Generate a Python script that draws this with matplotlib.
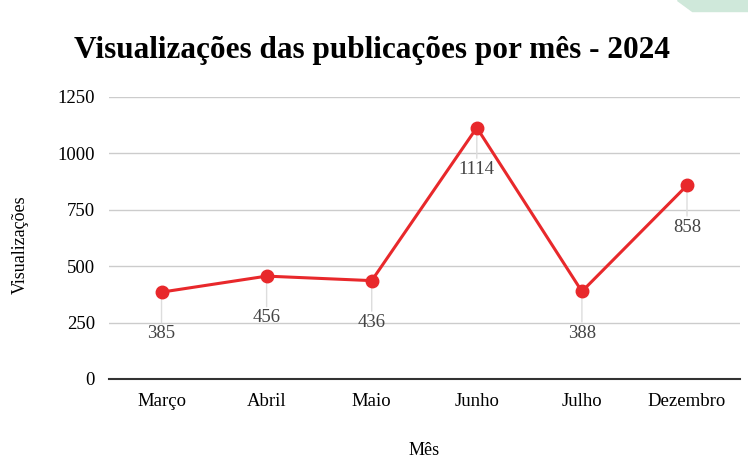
import matplotlib.pyplot as plt
from matplotlib.patches import Polygon

plt.rcParams.update({'font.family': 'serif'})
plt.rcParams.update({'font.serif': ['Liberation Serif', 'DejaVu Serif']})

meses = ['Março', 'Abril', 'Maio', 'Junho', 'Julho', 'Dezembro']
visualizacoes = [385, 456, 436, 1114, 388, 858]
yticks = [0, 250, 500, 750, 1000, 1250]

red = '#e8282b'

fig = plt.figure(figsize=(7.48, 4.59), dpi=100)
ax = fig.add_axes([0.1457, 0.1743, 0.843, 0.6144])

x = list(range(len(meses)))
ax.plot(x, visualizacoes, color=red, linewidth=2.2, marker='o', markersize=9, zorder=3)

for xi, v in zip(x, visualizacoes):
    ax.annotate('', xy=(xi, v), xytext=(0, -24), textcoords='offset points',
                arrowprops=dict(arrowstyle='-', color='#dddddd', lw=1), zorder=2)
    ax.annotate(str(v), xy=(xi, v), xytext=(0, -30), textcoords='offset points',
                ha='center', va='center', fontsize=13.5, color='#444444')

ax.set_xlim(-0.5, len(meses) - 0.5)
ax.set_ylim(0, 1250)
ax.set_yticks(yticks)
ax.set_xticks(x)
ax.set_xticklabels(meses, fontsize=13.5)
ax.tick_params(axis='both', length=0, labelsize=13.5)
ax.tick_params(axis='x', pad=10)
ax.tick_params(axis='y', pad=10)
ax.grid(axis='y', color='#cccccc', linewidth=1)
ax.set_axisbelow(True)
for s in ['top', 'right', 'left']:
    ax.spines[s].set_visible(False)
ax.spines['bottom'].set_color('#333333')
ax.spines['bottom'].set_linewidth(1.5)

ax.set_xlabel('Mês', fontsize=13, va='center')
ax.set_ylabel('Visualizações', fontsize=13, va='center')
ax.xaxis.set_label_coords(0.5, -0.252)
ax.yaxis.set_label_coords(-0.141, 0.475)
fig.text(0.497, 0.89, 'Visualizações das publicações por mês - 2024',
         ha='center', va='center', fontsize=22.5, fontweight='bold')

# canto verde no topo
fig.patches.append(Polygon([(0.905, 1.0), (1.0, 1.0), (1.0, 0.975), (0.925, 0.975)],
                           closed=True, transform=fig.transFigure, color='#cfe8da'))

plt.savefig('out.png', dpi=100)
